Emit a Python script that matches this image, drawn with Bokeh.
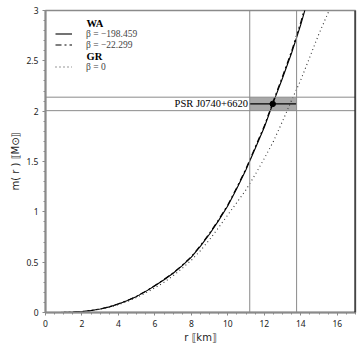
from bokeh.plotting import figure
from bokeh.models import (Span, BoxAnnotation, Legend, LegendItem, Label, FixedTicker,
                          Range1d, CustomJSTickFormatter)
from bokeh.embed import file_html
from bokeh.resources import INLINE

# ---------------- data ----------------
# WA, beta = -198.459 (solid)
r_wa1 = [0, 0.5, 1, 1.5, 2, 2.5, 3, 3.5, 4, 4.5, 5, 5.5, 6, 6.5, 7, 7.5, 8, 8.5, 9, 9.5,
         10, 10.5, 11, 11.5, 12, 12.5, 13, 13.5, 14, 14.25]
m_wa1 = [0, 0.0001, 0.001, 0.004, 0.01, 0.02, 0.035, 0.056, 0.085, 0.12, 0.16, 0.21, 0.265,
         0.325, 0.39, 0.465, 0.55, 0.66, 0.78, 0.915, 1.06, 1.235, 1.42, 1.63, 1.84, 2.09,
         2.33, 2.58, 2.86, 3.02]
# WA, beta = -22.299 (dash-dot)
r_wa2 = [0, 0.5, 1, 1.5, 2, 2.5, 3, 3.5, 4, 4.5, 5, 5.5, 6, 6.5, 7, 7.5, 8, 8.5, 9, 9.5,
         10, 10.5, 11, 11.5, 12, 12.5, 13, 13.5, 14, 14.22]
m_wa2 = [0, 0.0001, 0.001, 0.004, 0.01, 0.02, 0.035, 0.057, 0.086, 0.121, 0.162, 0.212, 0.268,
         0.328, 0.394, 0.47, 0.556, 0.667, 0.788, 0.924, 1.07, 1.245, 1.432, 1.643, 1.855, 2.105,
         2.347, 2.60, 2.885, 3.03]
# GR, beta = 0 (dotted)
r_gr = [0, 0.5, 1, 1.5, 2, 2.5, 3, 3.5, 4, 4.5, 5, 5.5, 6, 6.5, 7, 7.5, 8, 8.5, 9, 9.5,
        10, 10.5, 11, 11.5, 12, 12.5, 13, 13.5, 14, 14.5, 15, 15.6]
m_gr = [0, 0.0001, 0.001, 0.004, 0.009, 0.018, 0.032, 0.052, 0.078, 0.11, 0.15, 0.195, 0.245,
        0.30, 0.365, 0.44, 0.52, 0.615, 0.725, 0.845, 0.97, 1.095, 1.22, 1.37, 1.53, 1.70,
        1.90, 2.11, 2.31, 2.54, 2.77, 3.02]

labels = ["β = −198.459", "β = −22.299", "β = 0"]
groups = ["WA", "GR"]

psr_name = "PSR J0740+6620"
psr_r, psr_r_lo, psr_r_hi = 12.46, 11.2, 13.77
psr_m, psr_m_lo, psr_m_hi = 2.072, 2.005, 2.139

x_ticks = [0, 2, 4, 6, 8, 10, 12, 14, 16]
y_ticks = [0, 0.5, 1, 1.5, 2, 2.5, 3]
x_minor = [i * 0.5 for i in range(35)]
y_minor = [i * 0.1 for i in range(31)]

# ---------------- figure ----------------
p = figure(width=357, height=346, x_range=Range1d(0, 17), y_range=Range1d(0, 3),
           output_backend="svg", toolbar_location=None,
           min_border_left=45, min_border_right=2, min_border_top=10, min_border_bottom=34)
p.grid.visible = False
p.outline_line_color = "#8a8a8a"
p.outline_line_width = 1.5

gray = "#8a8a8a"
for ax in (p.xaxis[0], p.yaxis[0]):
    ax.axis_line_color = gray
    ax.axis_line_width = 2
    ax.major_tick_line_color = gray
    ax.minor_tick_line_color = gray
    ax.major_tick_in = 0
    ax.major_tick_out = 3
    ax.minor_tick_in = 0
    ax.minor_tick_out = 2
    ax.major_label_text_font = "Noto Sans"
    ax.major_label_text_font_size = "8.5px"
    ax.major_label_text_color = "#222222"
    ax.axis_label_text_font = "DejaVu Sans"
    ax.axis_label_text_font_size = "10px"
    ax.axis_label_text_font_style = "normal"
    ax.axis_label_text_color = "#222222"
    ax.formatter = CustomJSTickFormatter(code="return String(Math.round(tick*10)/10);")

p.xaxis[0].ticker = FixedTicker(ticks=x_ticks, minor_ticks=x_minor)
p.yaxis[0].ticker = FixedTicker(ticks=y_ticks, minor_ticks=y_minor)
p.xaxis[0].major_label_standoff = 4
p.yaxis[0].major_label_standoff = 4
p.xaxis[0].axis_label = "r ⟦km⟧"
p.yaxis[0].axis_label = "m( r ) ⟦M⊙⟧"
p.xaxis[0].axis_label_standoff = 2
p.yaxis[0].axis_label_standoff = 2

# PSR constraint
p.add_layout(BoxAnnotation(left=psr_r_lo, right=psr_r_hi, bottom=psr_m_lo, top=psr_m_hi,
                           fill_color="#a8a8a8", fill_alpha=1, line_color=None, level="underlay"))
for loc in (psr_r_lo, psr_r_hi):
    p.add_layout(Span(location=loc, dimension="height", line_color=gray, line_width=1))
for loc in (psr_m_lo, psr_m_hi):
    p.add_layout(Span(location=loc, dimension="width", line_color=gray, line_width=1))
p.segment(x0=[psr_r_lo], y0=[psr_m], x1=[psr_r_hi], y1=[psr_m], line_color="black", line_width=1.2)
p.scatter([psr_r], [psr_m], size=5.5, color="black")
p.add_layout(Label(x=psr_r_lo - 0.1, y=psr_m, text=psr_name, text_align="right",
                   text_baseline="middle", text_font="Liberation Serif",
                   text_font_size="10.5px", text_color="black"))

# curves
l1 = p.line(r_wa1, m_wa1, line_color="black", line_width=1.1)
l2 = p.line(r_wa2, m_wa2, line_color="black", line_width=1.1, line_dash="6 3 2 3")
l3 = p.line(r_gr, m_gr, line_color="#333333", line_width=1.1, line_dash="1 3")
blank = p.line([], [], line_alpha=0)

# right frame edge (black)
p.add_layout(Span(location=17, dimension="height", line_color="black", line_width=2))

legend = Legend(items=[LegendItem(label=" ", renderers=[blank]),
                       LegendItem(label=labels[0], renderers=[l1]),
                       LegendItem(label=labels[1], renderers=[l2]),
                       LegendItem(label="  ", renderers=[blank]),
                       LegendItem(label=labels[2], renderers=[l3])],
                location=(10, 240), glyph_width=17, glyph_height=11, label_height=11,
                spacing=0, padding=0, margin=0, label_standoff=14,
                label_text_font="Liberation Serif", label_text_font_size="9.5px",
                background_fill_alpha=0, border_line_alpha=0)
p.add_layout(legend)

for txt, yv in zip(groups, (2.87, 2.54)):
    p.add_layout(Label(x=2.25, y=yv, text=txt, text_baseline="middle",
                       text_font="Liberation Serif", text_font_style="bold",
                       text_font_size="10.5px", text_color="black"))

open("out.html", "w").write(file_html(p, INLINE))
